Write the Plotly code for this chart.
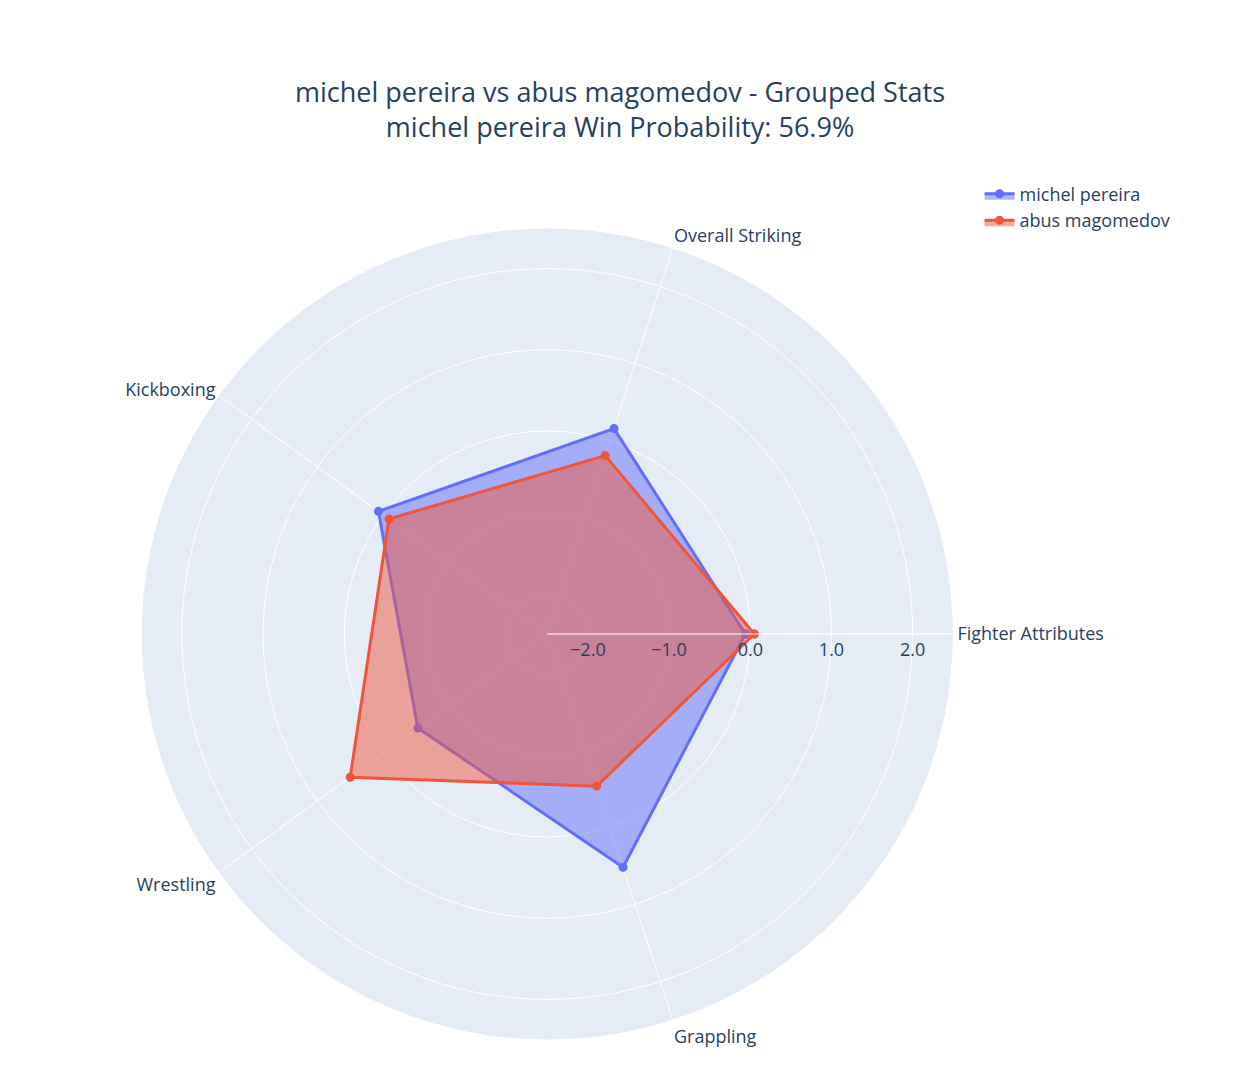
import plotly.graph_objects as go

categories = ["Fighter Attributes", "Overall Striking", "Kickboxing", "Wrestling", "Grappling"]
fighter_a = "michel pereira"
fighter_b = "abus magomedov"
values_a = [-0.06, 0.16, 0.07, -0.53, 0.52]
values_b = [0.05, -0.19, -0.09, 0.50, -0.53]
win_prob = 56.9

fig = go.Figure()
for name, vals in [(fighter_a, values_a), (fighter_b, values_b)]:
    fig.add_trace(go.Scatterpolar(
        r=vals + vals[:1],
        theta=categories + categories[:1],
        fill="toself",
        mode="lines+markers",
        name=name,
        marker_size=9,
    ))

fig.update_traces(line_width=3)
fig.update_layout(
    width=1244, height=1081,
    margin=dict(l=0, r=0, t=0, b=0),
    font=dict(size=18),
    title=dict(
        text=f"{fighter_a} vs {fighter_b} - Grouped Stats<br>{fighter_a} Win Probability: {win_prob}%",
        x=0.492, xanchor="center", y=0.913, yanchor="middle", font_size=27,
    ),
    polar=dict(
        domain=dict(x=[0.107, 0.760], y=[0.0453, 0.7965]),
        radialaxis=dict(visible=True, range=[-2.5, 2.5], tickformat=".1f", dtick=1),
    ),
    legend=dict(x=0.781, y=0.845, xanchor="left", yanchor="top"),
    showlegend=True,
)
fig.write_html("out.html")
